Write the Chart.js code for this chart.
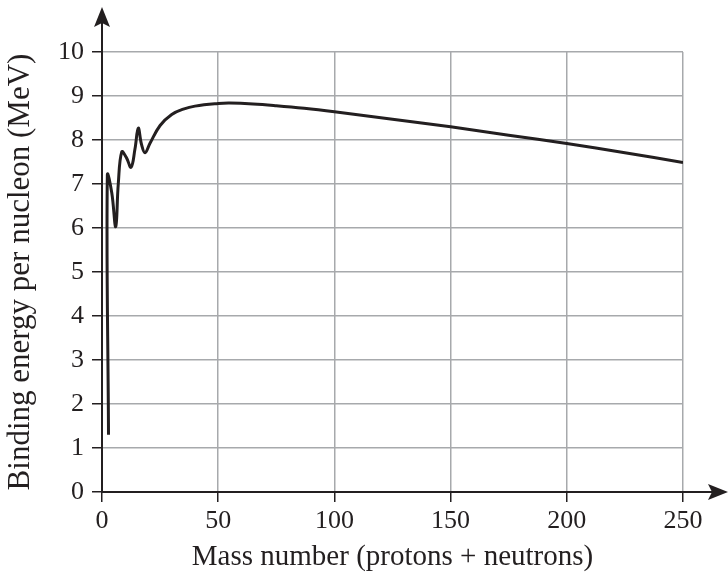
<!DOCTYPE html>
<html>
<head>
<meta charset="utf-8">
<script src="https://cdn.jsdelivr.net/npm/chart.js@4/dist/chart.umd.min.js"></script>
<style>
  html, body { margin: 0; padding: 0; background: #fff; }
  #wrap { width: 728px; height: 581px; }
</style>
</head>
<body>
<div id="wrap"><canvas id="chart"></canvas></div>
<script>
const massNumber = [2.8, 2.3, 4.2, 5.9, 7.0, 8.5, 10.5, 12.5, 14.2, 15.6, 17, 18.5, 20.6, 25, 30, 35, 40, 50, 55, 65, 75, 87, 100, 125, 150, 175, 200, 225, 250];
const bindingEnergy = [1.3, 7.2, 6.8, 6.03, 7.0, 7.73, 7.6, 7.38, 7.8, 8.27, 7.9, 7.71, 7.92, 8.33, 8.58, 8.7, 8.77, 8.83, 8.84, 8.82, 8.78, 8.72, 8.64, 8.47, 8.3, 8.11, 7.92, 7.71, 7.49];
const xTicks = [0, 50, 100, 150, 200, 250];
const yTicks = [0, 1, 2, 3, 4, 5, 6, 7, 8, 9, 10];

const ink = "#231f20";
const serif = "'Liberation Serif', 'DejaVu Serif', serif";

const points = massNumber.map((a, i) => ({ x: a, y: bindingEnergy[i] }));

// axis arrows past the plot area
const arrows = {
  id: "arrows",
  afterDraw(chart) {
    const ctx = chart.ctx;
    const x0 = chart.scales.x.getPixelForValue(0);
    const y0 = chart.scales.y.getPixelForValue(0);
    const top = chart.chartArea.top;
    const right = chart.chartArea.right;
    ctx.save();
    ctx.strokeStyle = ink;
    ctx.fillStyle = ink;
    ctx.lineWidth = 2;
    ctx.beginPath();
    ctx.moveTo(x0, top);
    ctx.lineTo(x0, 20);
    ctx.moveTo(right, y0);
    ctx.lineTo(716, y0);
    ctx.stroke();
    // up arrow
    ctx.beginPath();
    ctx.moveTo(x0, 7);
    ctx.lineTo(x0 + 8, 27);
    ctx.lineTo(x0, 23);
    ctx.lineTo(x0 - 8, 27);
    ctx.closePath();
    ctx.fill();
    // right arrow
    ctx.beginPath();
    ctx.moveTo(728, y0);
    ctx.lineTo(708, y0 - 8);
    ctx.lineTo(712, y0);
    ctx.lineTo(708, y0 + 8);
    ctx.closePath();
    ctx.fill();
    ctx.restore();
  }
};

new Chart(document.getElementById("chart"), {
  type: "line",
  data: {
    datasets: [{
      data: points,
      borderColor: ink,
      borderWidth: 3,
      pointRadius: 0,
      tension: 0.4,
      fill: false
    }]
  },
  options: {
    responsive: true,
    maintainAspectRatio: false,
    animation: false,
    layout: { padding: { top: 52, right: 45, left: 0, bottom: 0 } },
    plugins: { legend: { display: false }, tooltip: { enabled: false } },
    scales: {
      x: {
        type: "linear",
        min: 0,
        max: 250,
        afterBuildTicks: (s) => { s.ticks = xTicks.map(v => ({ value: v })); },
        afterFit: (s) => { s.height = 89; },
        grid: { color: "#a7a9ac", lineWidth: 1.5, tickColor: ink, tickLength: 10 },
        border: { color: ink, width: 2 },
        ticks: { color: ink, font: { family: serif, size: 26 }, padding: 4, maxRotation: 0 },
        title: {
          display: true,
          text: "Mass number (protons + neutrons)",
          color: ink,
          font: { family: serif, size: 29 },
          padding: { top: 0, bottom: 6 }
        }
      },
      y: {
        min: 0,
        max: 10,
        afterBuildTicks: (s) => { s.ticks = yTicks.map(v => ({ value: v })); },
        afterFit: (s) => { s.width = 102; },
        grid: { color: "#a7a9ac", lineWidth: 1.5, tickColor: ink, tickLength: 10 },
        border: { color: ink, width: 2 },
        ticks: { color: ink, font: { family: serif, size: 26 }, padding: 8 },
        title: {
          display: true,
          text: "Binding energy per nucleon (MeV)",
          color: ink,
          font: { family: serif, size: 31 },
          padding: { top: 2, bottom: 4 }
        }
      }
    }
  },
  plugins: [arrows]
});
</script>
</body>
</html>
